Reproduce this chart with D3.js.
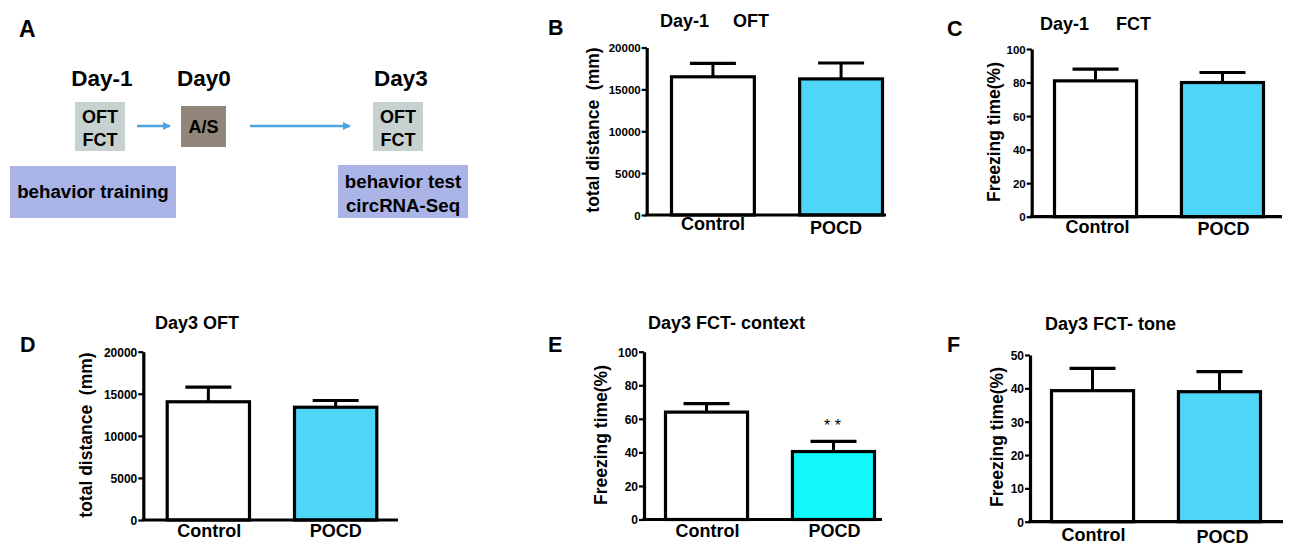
<!DOCTYPE html>
<html>
<head>
<meta charset="utf-8">
<script src="https://cdn.jsdelivr.net/npm/d3@7"></script>
<style>
  html, body { margin: 0; padding: 0; background: #fff; }
  svg { display: block; font-family: "Liberation Sans", Arial, sans-serif; }
</style>
</head>
<body>
<svg id="chart" width="1300" height="554"></svg>
<script>
// ---------------- DATA ----------------
const categories = ["Control", "POCD"];

const day1OFT_mean = [16500, 16250];
const day1OFT_sem  = [1600, 1900];

const day1FCT_mean = [81, 80];
const day1FCT_sem  = [7, 6];

const day3OFT_mean = [14050, 13400];
const day3OFT_sem  = [1730, 800];

const day3FCTcontext_mean = [64, 40.5];
const day3FCTcontext_sem  = [5, 6];

const day3FCTtone_mean = [39.3, 39.0];
const day3FCTtone_sem  = [6.7, 6.0];

const ticksDistance = [0, 5000, 10000, 15000, 20000];
const ticksPercent100 = [0, 20, 40, 60, 80, 100];
const ticksPercent50 = [0, 10, 20, 30, 40, 50];

const significance = ["", "* *"];

// timeline texts (panel A)
const timelineDays = ["Day-1", "Day0", "Day3"];
const testBoxLines = ["OFT", "FCT"];
const surgeryLabel = "A/S";
const trainingLabel = ["behavior training"];
const testLabel = ["behavior test", "circRNA-Seq"];

// ---------------- STYLE / LAYOUT ----------------
const FONT = '"Liberation Sans", Arial, sans-serif';
const BLUE = "#4fd6f7";
const CYAN = "#10f8f8";

const svg = d3.select("#chart");

// ---------- Panel A: timeline ----------
(function () {
  const g = svg.append("g");
  g.append("text").attr("x", 19).attr("y", 37).attr("font-size", 23).attr("font-weight", "bold").text("A");

  const dayX = [102, 204, 401];
  g.selectAll("text.day").data(timelineDays).join("text")
    .attr("class", "day")
    .attr("x", (d, i) => dayX[i]).attr("y", 86)
    .attr("text-anchor", "middle").attr("font-size", 22.5).attr("font-weight", "bold")
    .text(d => d);

  // test boxes
  [[75, 102], [373, 102]].forEach(([bx, by]) => {
    g.append("rect").attr("x", bx).attr("y", by).attr("width", 50).attr("height", 49).attr("fill", "#c6d1d0");
    g.selectAll(null).data(testBoxLines).join("text")
      .attr("x", bx + 25).attr("y", (d, i) => by + 21 + i * 23)
      .attr("text-anchor", "middle").attr("font-size", 18).attr("font-weight", "bold")
      .text(d => d);
  });

  // A/S box
  g.append("rect").attr("x", 181).attr("y", 106).attr("width", 45).attr("height", 41).attr("fill", "#928579");
  g.append("text").attr("x", 203.5).attr("y", 133).attr("text-anchor", "middle")
    .attr("font-size", 18).attr("font-weight", "600").text(surgeryLabel);

  // arrows
  const arrowColor = "#4ba3e3";
  const defs = svg.append("defs");
  defs.append("marker").attr("id", "ah").attr("viewBox", "0 0 10 10").attr("refX", 9).attr("refY", 5)
    .attr("markerWidth", 3.2).attr("markerHeight", 3.2).attr("orient", "auto")
    .append("path").attr("d", "M0,0L10,5L0,10z").attr("fill", arrowColor);
  [[137, 170], [250, 350]].forEach(([x1, x2]) => {
    g.append("line").attr("x1", x1).attr("x2", x2).attr("y1", 126).attr("y2", 126)
      .attr("stroke", arrowColor).attr("stroke-width", 2.6).attr("marker-end", "url(#ah)");
  });

  // lavender boxes
  g.append("rect").attr("x", 10).attr("y", 166).attr("width", 166).attr("height", 52).attr("fill", "#aab4e6");
  g.append("text").attr("x", 93).attr("y", 198).attr("text-anchor", "middle")
    .attr("font-size", 18.7).attr("font-weight", "bold").text(trainingLabel[0]);

  g.append("rect").attr("x", 338).attr("y", 165).attr("width", 130).attr("height", 53).attr("fill", "#aab4e6");
  g.selectAll(null).data(testLabel).join("text")
    .attr("x", 403).attr("y", (d, i) => 188 + i * 24)
    .attr("text-anchor", "middle").attr("font-size", 18.7).attr("font-weight", "bold")
    .text(d => d);
})();

// ---------- Bar panels ----------
const panels = [
  { letter: "B", lx: 548, ly: 35, title: [["Day-1", 660], ["OFT", 733]], ty: 26.5, tfs: 18,
    mean: day1OFT_mean, sem: day1OFT_sem, max: 20000, ticks: ticksDistance, tickFs: 11.5,
    ylabel: "total distance  (mm)", ylx: 599, yly: 130,
    axisX: 646.7, axisEnd: 886, barL: 670, barR: 884, yTop: 47.5, y0: 215,
    fills: ["#fff", BLUE], xlabY: [230, 234], xlabDx: [0, -5] },
  { letter: "C", lx: 947, ly: 36, title: [["Day-1", 1040], ["FCT", 1116]], ty: 30, tfs: 18,
    mean: day1FCT_mean, sem: day1FCT_sem, max: 100, ticks: ticksPercent100, tickFs: 11.5,
    ylabel: "Freezing time(%)", ylx: 1000, yly: 132,
    axisX: 1031.7, axisEnd: 1282, barL: 1053, barR: 1265, yTop: 49, y0: 216.7,
    fills: ["#fff", BLUE], xlabY: [233, 235], xlabDx: [2, 1] },
  { letter: "D", lx: 20, ly: 352, title: [["Day3 OFT", 155]], ty: 329, tfs: 18,
    mean: day3OFT_mean, sem: day3OFT_sem, max: 20000, ticks: ticksDistance, tickFs: 12,
    ylabel: "total distance  (mm)", ylx: 92, yly: 435,
    axisX: 143.3, axisEnd: 398, barL: 165.7, barR: 378.3, yTop: 351.7, y0: 520,
    fills: ["#fff", BLUE], xlabY: [537, 537], xlabDx: [1, 0] },
  { letter: "E", lx: 548, ly: 352, title: [["Day3 FCT- context", 648]], ty: 329, tfs: 18,
    mean: day3FCTcontext_mean, sem: day3FCTcontext_sem, max: 100, ticks: ticksPercent100, tickFs: 12,
    ylabel: "Freezing time(%)", ylx: 607, yly: 435,
    axisX: 644, axisEnd: 882, barL: 664, barR: 876, yTop: 351.7, y0: 519.5,
    fills: ["#fff", CYAN], xlabY: [537, 537], xlabDx: [1, 1], sig: significance },
  { letter: "F", lx: 947, ly: 352, title: [["Day3 FCT- tone", 1045]], ty: 330, tfs: 18,
    mean: day3FCTtone_mean, sem: day3FCTtone_sem, max: 50, ticks: ticksPercent50, tickFs: 12,
    ylabel: "Freezing time(%)", ylx: 1003, yly: 437,
    axisX: 1030, axisEnd: 1283, barL: 1050, barR: 1262, yTop: 355, y0: 521.7,
    fills: ["#fff", BLUE], xlabY: [541, 543], xlabDx: [1, 3] }
];

panels.forEach(p => {
  const g = svg.append("g");
  const y = d3.scaleLinear().domain([0, p.max]).range([p.y0, p.yTop]);
  const x = d3.scaleBand().domain(categories).range([p.barL, p.barR]).paddingInner(0.33).paddingOuter(0);
  const bw = x.bandwidth();

  // panel letter
  g.append("text").attr("x", p.lx).attr("y", p.ly).attr("font-size", 21.5).attr("font-weight", "bold").text(p.letter);

  // title
  g.selectAll("text.title").data(p.title).join("text").attr("class", "title")
    .attr("x", d => d[1]).attr("y", p.ty).attr("font-size", p.tfs).attr("font-weight", "bold")
    .text(d => d[0]);

  // y label
  g.append("text")
    .attr("transform", `translate(${p.ylx},${p.yly}) rotate(-90)`)
    .attr("text-anchor", "middle").attr("font-size", 17.5).attr("font-weight", "bold")
    .style("white-space", "pre")
    .text(p.ylabel);

  // error bars
  const capW = 46;
  const eb = g.selectAll("g.eb").data(categories).join("g").attr("class", "eb");
  eb.append("line")
    .attr("x1", d => x(d) + bw / 2).attr("x2", d => x(d) + bw / 2)
    .attr("y1", (d, i) => y(p.mean[i])).attr("y2", (d, i) => y(p.mean[i] + p.sem[i]))
    .attr("stroke", "#000").attr("stroke-width", 3);
  eb.append("line")
    .attr("x1", d => x(d) + bw / 2 - capW / 2).attr("x2", d => x(d) + bw / 2 + capW / 2)
    .attr("y1", (d, i) => y(p.mean[i] + p.sem[i])).attr("y2", (d, i) => y(p.mean[i] + p.sem[i]))
    .attr("stroke", "#000").attr("stroke-width", 3.2);

  // bars
  g.selectAll("rect.bar").data(categories).join("rect").attr("class", "bar")
    .attr("x", d => x(d) + 1.5).attr("width", bw - 3)
    .attr("y", (d, i) => y(p.mean[i]))
    .attr("height", (d, i) => p.y0 - y(p.mean[i]))
    .attr("fill", (d, i) => p.fills[i])
    .attr("stroke", "#000").attr("stroke-width", 3.2);

  // significance
  if (p.sig) {
    g.selectAll("text.sig").data(categories).join("text").attr("class", "sig")
      .attr("x", d => x(d) + bw / 2 - 1)
      .attr("y", (d, i) => y(p.mean[i] + p.sem[i]) - 10)
      .attr("text-anchor", "middle").attr("font-size", 16)
      .style("white-space", "pre")
      .text((d, i) => p.sig[i]);
  }

  // y axis
  const ax = g.append("g").attr("transform", `translate(${p.axisX},0)`)
    .call(d3.axisLeft(y).tickValues(p.ticks).tickSize(5).tickPadding(1).tickSizeOuter(0).tickFormat(d3.format("d")));
  ax.select(".domain").attr("stroke", "#000").attr("stroke-width", 3.2);
  ax.selectAll(".tick line").attr("stroke", "#000").attr("stroke-width", 2.2);
  ax.selectAll(".tick text").attr("fill", "#000").attr("font-size", p.tickFs)
    .attr("font-weight", "bold").attr("font-family", FONT).attr("dy", "0.36em");

  // x axis line
  g.append("line").attr("x1", p.axisX - 1.5).attr("x2", p.axisEnd)
    .attr("y1", p.y0).attr("y2", p.y0).attr("stroke", "#000").attr("stroke-width", 3.2);

  // x labels
  g.selectAll("text.xl").data(categories).join("text").attr("class", "xl")
    .attr("x", (d, i) => x(d) + bw / 2 + p.xlabDx[i])
    .attr("y", (d, i) => p.xlabY[i])
    .attr("text-anchor", "middle").attr("font-size", 18).attr("font-weight", "bold")
    .text(d => d);
});
</script>
</body>
</html>
